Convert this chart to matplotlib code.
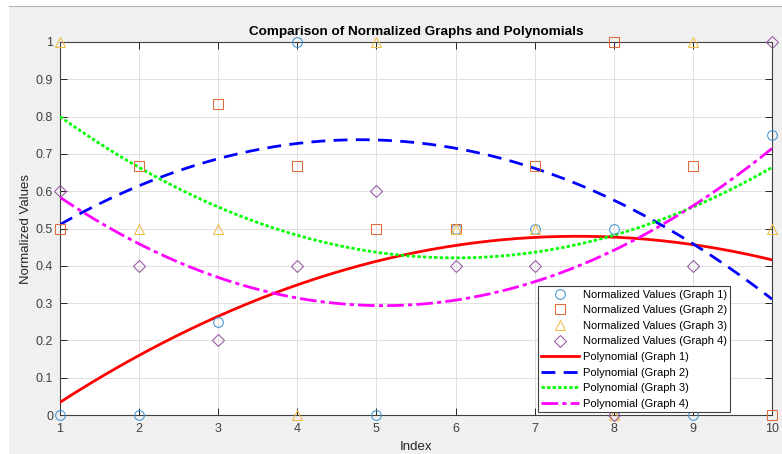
import numpy as np
import matplotlib.pyplot as plt
from matplotlib.patches import Rectangle
from matplotlib.lines import Line2D

plt.rcParams['font.family'] = ['Liberation Sans', 'DejaVu Sans']

idx = np.arange(1, 11)
graph1 = [0, 0, 0.25, 1, 0, 0.5, 0.5, 0.5, 0, 0.75]
graph2 = [0.5, 0.6667, 0.8333, 0.6667, 0.5, 0.5, 0.6667, 1, 0.6667, 0]
graph3 = [1, 0.5, 0.5, 0, 1, 0.5, 0.5, 0, 1, 0.5]
graph4 = [0.6, 0.4, 0.2, 0.4, 0.6, 0.4, 0.4, 0, 0.4, 1]
graphs = [graph1, graph2, graph3, graph4]

markers = ['o', 's', '^', 'D']
marker_colors = ['#3d95d0', '#e06a3a', '#efbb45', '#9455a2']
fit_colors = ['#FF0000', '#0000FF', '#00FF00', '#FF00FF']
fit_styles = ['-', (0, (5, 3)), (0, (1.2, 0.8)), (0, (6, 1.5, 1.5, 1.5))]

fig = plt.figure(figsize=(7.82, 4.54), dpi=100, facecolor='white')
# grey figure panel with a thin border along the top
top = (454 - 6) / 454
fig.add_artist(Rectangle((9 / 782, 0), 1, top, transform=fig.transFigure,
                         facecolor='#f0f0f0', edgecolor='none', zorder=-10))
fig.add_artist(Line2D([9 / 782, 1], [top, top], transform=fig.transFigure,
                      color='#b4b4b4', linewidth=0.8, zorder=-9))

ax = fig.add_axes([60 / 782, 39 / 454, 712 / 782, 373 / 454])
ax.set_facecolor('white')

for i, g in enumerate(graphs):
    ax.plot(idx, g, linestyle='none', marker=markers[i], markersize=7 if markers[i] != 'D' else 6,
            markerfacecolor='none', markeredgecolor=marker_colors[i], markeredgewidth=0.75,
            clip_on=False, zorder=4, label='Normalized Values (Graph %d)' % (i + 1))

xs = np.linspace(1, 10, 300)
for i, g in enumerate(graphs):
    coef = np.polyfit(idx, g, 2)
    ax.plot(xs, np.polyval(coef, xs), color=fit_colors[i], linestyle=fit_styles[i],
            linewidth=2, zorder=3, label='Polynomial (Graph %d)' % (i + 1))

ax.set_xlim(1, 10)
ax.set_ylim(0, 1)
ax.set_xticks(idx)
ax.set_yticks(np.arange(0, 1.01, 0.1))
ax.set_yticklabels(['0', '0.1', '0.2', '0.3', '0.4', '0.5', '0.6', '0.7', '0.8', '0.9', '1'])
ax.grid(True, color='#e0e0e0', linewidth=0.7)
ax.set_axisbelow(True)
ax.tick_params(direction='in', top=True, right=True, length=5, width=0.7,
               colors='#262626', labelcolor='#404040', labelsize=9)
ax.tick_params(axis='x', pad=6)
ax.tick_params(axis='y', pad=5)
for s in ax.spines.values():
    s.set_color('#404040')
    s.set_linewidth(0.8)

ax.set_title('Comparison of Normalized Graphs and Polynomials', fontsize=9.7,
             fontweight='bold', pad=5)
ax.set_xlabel('Index', fontsize=9.5, color='#262626', labelpad=4)
ax.set_ylabel('Normalized Values', fontsize=9.5, color='#262626', labelpad=3)

leg = ax.legend(loc='lower right', bbox_to_anchor=(0.941, 0.008), fontsize=8,
                handlelength=3.4, handletextpad=0.3, labelspacing=0.5,
                borderpad=0.3, borderaxespad=0, numpoints=1,
                fancybox=False, framealpha=1, edgecolor='#404040')
leg.get_frame().set_linewidth(0.8)

fig.savefig('out.png', dpi=100, facecolor=fig.get_facecolor())
